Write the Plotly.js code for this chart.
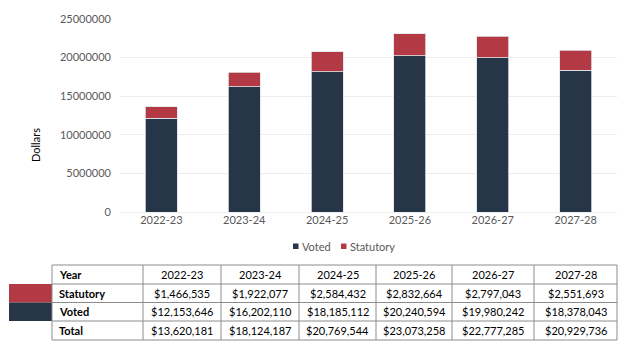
<!DOCTYPE html>
<html>
<head>
<meta charset="utf-8">
<script src="https://cdn.plot.ly/plotly-3.0.1.min.js"></script>
<style>
html,body{margin:0;padding:0;background:#fff;}
#chart{width:624px;height:351px;}
</style>
</head>
<body>
<div id="chart"></div>
<script>
var years = ['2022-23','2023-24','2024-25','2025-26','2026-27','2027-28'];
var voted = [12153646, 16202110, 18185112, 20240594, 19980242, 18378043];
var statutory = [1466535, 1922077, 2584432, 2832664, 2797043, 2551693];
var totals = [13620181, 18124187, 20769544, 23073258, 22777285, 20929736];
var rowLabels = ['Statutory', 'Voted', 'Total'];
var seriesNames = ['Voted', 'Statutory'];

var NAVY = '#263548';
var RED = '#b33a44';
var W = 624, H = 351;
function px(x){return x / W;}
function py(y){return (H - y) / H;}
function money(v){return '$' + v.toString().replace(/\B(?=(\d{3})+(?!\d))/g, ',');}

var font = 'Lato, "Open Sans", sans-serif';

var traces = [
  {type:'bar', name:seriesNames[0], x:years, y:voted, marker:{color:NAVY, line:{color:'#dfe3e8', width:0.8}}, showlegend:false},
  {type:'bar', name:seriesNames[1], x:years, y:statutory, marker:{color:RED, line:{color:'#dfe3e8', width:0.8}}, showlegend:false}
];

// table geometry (pixels)
var colEdges = [52, 143, 221, 299, 376, 452, 534, 617];
var rowEdges = [265, 284, 302.5, 321, 340];
var LINE = '#8c8c8c';

var shapes = [
  {type:'rect', xref:'paper', yref:'paper', x0:px(9), x1:px(52), y0:py(rowEdges[2]), y1:py(rowEdges[1]), fillcolor:RED, line:{width:0}},
  {type:'rect', xref:'paper', yref:'paper', x0:px(9), x1:px(52), y0:py(rowEdges[3]), y1:py(rowEdges[2]), fillcolor:NAVY, line:{width:0}}
];
rowEdges.forEach(function(y){
  shapes.push({type:'line', xref:'paper', yref:'paper', x0:px(colEdges[0]), x1:px(colEdges[colEdges.length-1]), y0:py(y), y1:py(y), line:{color:LINE, width:1}});
});
colEdges.forEach(function(x){
  shapes.push({type:'line', xref:'paper', yref:'paper', x0:px(x), x1:px(x), y0:py(rowEdges[0]), y1:py(rowEdges[rowEdges.length-1]), line:{color:LINE, width:1}});
});

var annotations = [
  {text:'Dollars', xref:'paper', yref:'paper', x:px(35), y:py(145), textangle:-90,
   showarrow:false, font:{family:font, size:11, color:'#000000'}, xanchor:'center', yanchor:'middle'}
];

// legend (manual, compact)
var legendItems = [
  {name:seriesNames[0], color:NAVY, sq:293, tx:300},
  {name:seriesNames[1], color:RED, sq:341, tx:348}
];
legendItems.forEach(function(it){
  shapes.push({type:'rect', xref:'paper', yref:'paper', x0:px(it.sq), x1:px(it.sq+5.5), y0:py(249), y1:py(243.5), fillcolor:it.color, line:{width:0}});
  annotations.push({text:it.name, xref:'paper', yref:'paper', x:px(it.tx), y:py(246.5), xanchor:'left', yanchor:'middle',
                    showarrow:false, font:{family:font, size:11, color:'#595959'}});
});

// table text
var tableRows = [['<b>Year</b>'].concat(years)];
rowLabels.forEach(function(lbl, r){
  var src = [statutory, voted, totals][r];
  tableRows.push(['<b>' + lbl + '</b>'].concat(src.map(money)));
});
tableRows.forEach(function(row, r){
  var yc = (rowEdges[r] + rowEdges[r+1]) / 2;
  row.forEach(function(txt, c){
    var left = c === 0;
    annotations.push({
      text:txt, xref:'paper', yref:'paper',
      x: left ? px(colEdges[0] + 5) : px((colEdges[c] + colEdges[c+1]) / 2),
      y: py(yc), xanchor: left ? 'left' : 'center', yanchor:'middle',
      showarrow:false, font:{family:font, size:11, color:'#000000'}
    });
  });
});

var layout = {
  width:W, height:H,
  margin:{l:0, r:0, t:0, b:0},
  paper_bgcolor:'#ffffff', plot_bgcolor:'#ffffff',
  barmode:'stack',
  bargap:0.614,
  font:{family:font, size:11, color:'#595959'},
  xaxis:{domain:[px(120), px(617)], showgrid:false, zeroline:false, showline:false, ticks:'',
         tickfont:{family:font, size:11, color:'#595959'}, fixedrange:true},
  yaxis:{domain:[py(212), py(19)], range:[0, 25000000], dtick:5000000, tickformat:'d',
         showgrid:true, gridcolor:'#ececec', gridwidth:1, zeroline:true, zerolinecolor:'#ececec',
         showline:false, ticks:'', ticklabelstandoff:8,
         tickfont:{family:font, size:11, color:'#595959'}, fixedrange:true},
  showlegend:false,
  annotations:annotations,
  shapes:shapes
};

Plotly.newPlot('chart', traces, layout, {displayModeBar:false, staticPlot:true});
</script>
</body>
</html>
